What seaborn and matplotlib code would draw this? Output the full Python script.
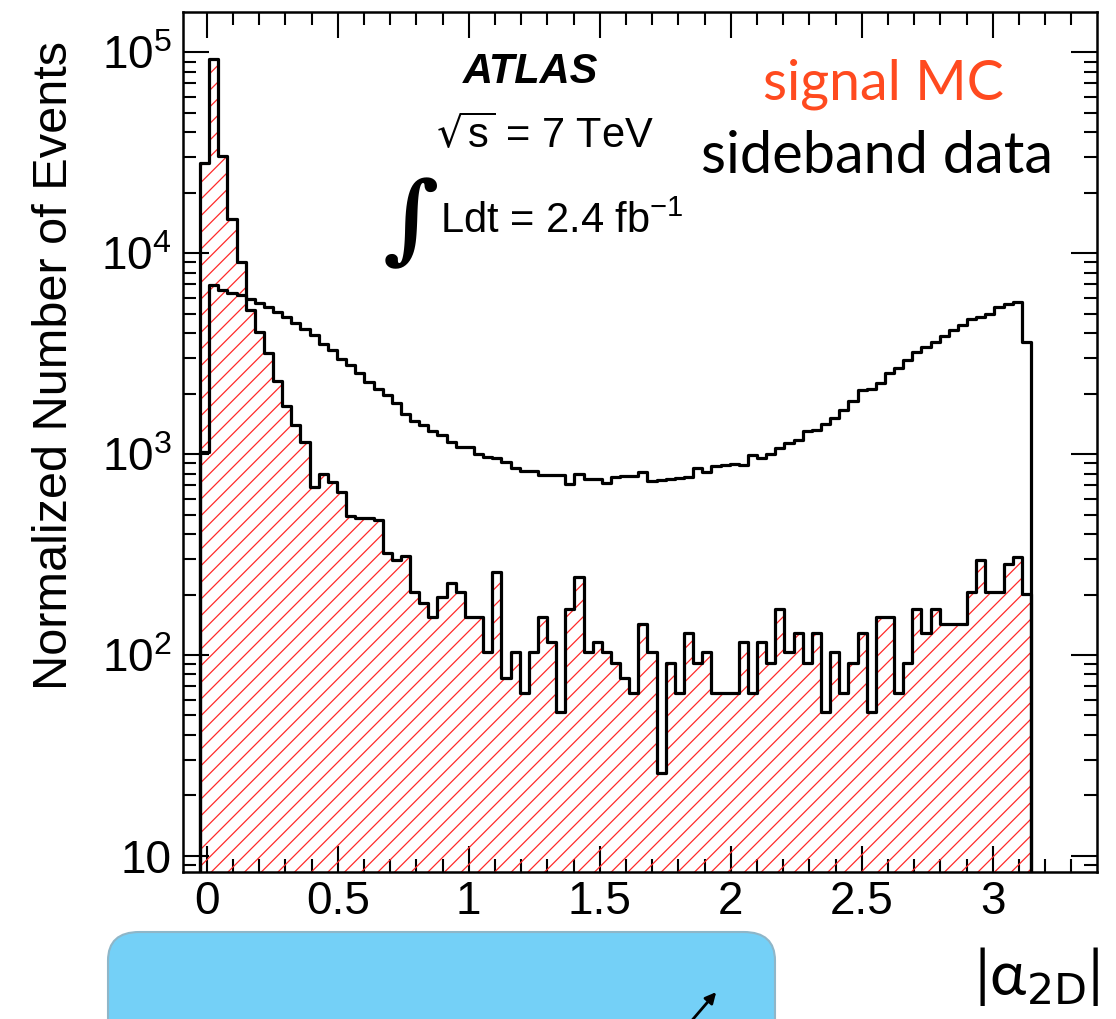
import numpy as np
import pandas as pd
import matplotlib
matplotlib.use("Agg")
import matplotlib.pyplot as plt
import seaborn as sns
from matplotlib.patches import FancyBboxPatch, FancyArrowPatch
from matplotlib.ticker import (FixedLocator, FixedFormatter, MultipleLocator,
                               LogLocator, NullFormatter)

# ---------------- data ----------------
bin_low = -0.0256
bin_high = 3.146
n_bins = 91

signal_mc = [
    2.8e4, 9.3e4, 3.05e4, 1.48e4, 9.06e3, 5.2e3, 4.06e3, 3.19e3, 2.32e3, 1.73e3,
    1.39e3, 1.15e3, 683, 794, 728, 649, 490, 480, 480, 470,
    323, 297, 311, 207, 181, 154, 195, 229, 207, 155,
    155, 104, 258, 77, 103, 65, 103, 155, 116, 52,
    169, 244, 103, 116, 103, 91, 77, 65, 142, 103,
    26, 91, 65, 129, 91, 103, 65, 65, 65, 116,
    65, 116, 91, 169, 104, 129, 91, 129, 52, 104,
    65, 91, 129, 52, 155, 155, 65, 91, 169, 129,
    169, 142, 142, 142, 205, 297, 205, 205, 284, 308,
    202,
]

sideband_data = [
    1.03e3, 6.93e3, 6.55e3, 6.35e3, 6.18e3, 5.95e3, 5.66e3, 5.41e3, 5.1e3, 4.79e3,
    4.5e3, 4.22e3, 3.91e3, 3.55e3, 3.29e3, 2.99e3, 2.77e3, 2.52e3, 2.29e3, 2.12e3,
    1.97e3, 1.79e3, 1.59e3, 1.47e3, 1.39e3, 1.31e3, 1.24e3, 1.15e3, 1.09e3, 1.09e3,
    1.0e3, 964, 952, 916, 849, 826, 826, 787, 787, 787,
    714, 795, 748, 748, 720, 771, 776, 776, 817, 736,
    740, 748, 757, 765, 849, 817, 871, 880, 891, 881,
    989, 952, 1000, 1070, 1140, 1170, 1300, 1320, 1410, 1510,
    1660, 1840, 2080, 2120, 2250, 2520, 2670, 2940, 3230, 3420,
    3620, 3870, 4140, 4380, 4730, 4790, 5010, 5370, 5570, 5720,
    3620,
]

x_ticks = [0, 0.5, 1, 1.5, 2, 2.5, 3]
x_tick_labels = ["0", "0.5", "1", "1.5", "2", "2.5", "3"]
y_ticks = [10, 100, 1000, 10000, 100000]
y_tick_labels = ["10", "$10^{2}$", "$10^{3}$", "$10^{4}$", "$10^{5}$"]

edges = [float(e) for e in np.linspace(bin_low, bin_high, n_bins + 1)]
centers = [0.5 * (a + b) for a, b in zip(edges[:-1], edges[1:])]
df = pd.DataFrame({"alpha": centers, "signal": signal_mc, "sideband": sideband_data})

# ---------------- style ----------------
sns.set_theme(style="white")
plt.rcParams["font.family"] = ["Liberation Sans", "DejaVu Sans"]
plt.rcParams["mathtext.default"] = "regular"
plt.rcParams["hatch.linewidth"] = 0.9
plt.rcParams["hatch.color"] = "#ff2a2a"

fig = plt.figure(figsize=(11.16, 10.19), dpi=100)
fig.patch.set_facecolor("white")
ax = fig.add_axes([0.164, 0.1443, 0.819, 0.8435])
ax.set_yscale("log")

y_bottom = 8.32
y_top = 1.58e5

# hatched red fill of signal MC
sns.histplot(data=df, x="alpha", weights="signal", bins=edges, element="step",
             fill=True, color="#ff2a2a", hatch="//", facecolor="none",
             edgecolor="#ff2a2a", linewidth=0, ax=ax, zorder=1)
# outlines
line_w = 2.3
sns.histplot(data=df, x="alpha", weights="signal", bins=edges, element="step",
             fill=False, color="black", linewidth=line_w, ax=ax, zorder=3)
sns.histplot(data=df, x="alpha", weights="sideband", bins=edges, element="step",
             fill=False, color="black", linewidth=line_w, ax=ax, zorder=3)
ax.vlines([edges[0], edges[-1]], y_bottom, [signal_mc[0], signal_mc[-1]],
          colors="black", linewidth=line_w, zorder=3)
ax.vlines([edges[0], edges[-1]], y_bottom, [sideband_data[0], sideband_data[-1]],
          colors="black", linewidth=line_w, zorder=3)

ax.set_xlim(-0.0905, 3.398)
ax.set_ylim(y_bottom, y_top)

ax.xaxis.set_major_locator(FixedLocator(x_ticks))
ax.xaxis.set_major_formatter(FixedFormatter(x_tick_labels))
ax.xaxis.set_minor_locator(MultipleLocator(0.1))
ax.yaxis.set_major_locator(FixedLocator(y_ticks))
ax.yaxis.set_major_formatter(FixedFormatter(y_tick_labels))
ax.yaxis.set_minor_locator(LogLocator(base=10, subs=np.arange(2, 10)))
ax.yaxis.set_minor_formatter(NullFormatter())

ax.tick_params(which="both", direction="in", top=True, right=True, bottom=True,
               left=True, width=1.5, color="black", labelcolor="black")
ax.tick_params(which="major", length=18.5, labelsize=33)
ax.tick_params(axis="x", which="major", pad=6)
ax.tick_params(axis="y", which="major", pad=8)
ax.tick_params(which="minor", length=9.4)

for sp in ax.spines.values():
    sp.set_visible(True)
    sp.set_color("black")
    sp.set_linewidth(1.8)
ax.grid(False)

ax.set_ylabel("Normalized Number of Events", fontsize=35, color="black", loc="top")
ax.yaxis.set_label_coords(-0.116, 0.967)
ax.set_xlabel(r"|$\alpha_{\mathrm{2D}}$|", fontsize=44, color="black", loc="right",
              family=["Lato", "DejaVu Sans"])
ax.xaxis.set_label_coords(1.003, -0.085)

# ---------------- annotations ----------------
W, H = 1116.0, 1019.0
fig.text(531 / W, 1 - 83 / H, "ATLAS", fontsize=30, fontweight="bold",
         fontstyle="italic", ha="center", va="baseline", color="black")
fig.text(545 / W, 1 - 148 / H, r"$\sqrt{s}$ = 7 TeV", fontsize=30,
         ha="center", va="baseline", color="black")
fig.text(440 / W, 1 - 233 / H, r"Ldt = 2.4 fb$^{-1}$", fontsize=30,
         ha="left", va="baseline", color="black")
fig.text(411 / W, 1 - 224 / H, "\u222b", fontsize=70,
         family=["DejaVu Serif", "DejaVu Sans"], fontstyle="italic",
         fontweight="bold", ha="center", va="center", color="black")
fig.text(883 / W, 1 - 100 / H, "signal MC", fontsize=40, color="#ff4a1f",
         ha="center", va="baseline", family=["Lato", "DejaVu Sans"])
fig.text(877 / W, 1 - 173 / H, "sideband data", fontsize=41.5, color="black",
         ha="center", va="baseline", family=["Lato", "DejaVu Sans"])

# slide box at the bottom
box = FancyBboxPatch((108 / W, -0.06), (775 - 108) / W, 0.06 + (1 - 932 / H),
                     boxstyle="round,pad=0,rounding_size=0.028",
                     transform=fig.transFigure, facecolor="#74d0f7",
                     edgecolor="#8fb6c8", linewidth=1.5, clip_on=False)
fig.add_artist(box)
arrow = FancyArrowPatch((688 / W, 1 - 1025 / H), (718 / W, 1 - 990 / H),
                        transform=fig.transFigure, arrowstyle="-|>",
                        mutation_scale=16, color="black", linewidth=2)
fig.add_artist(arrow)

fig.savefig("out.png", dpi=100, facecolor="white")
